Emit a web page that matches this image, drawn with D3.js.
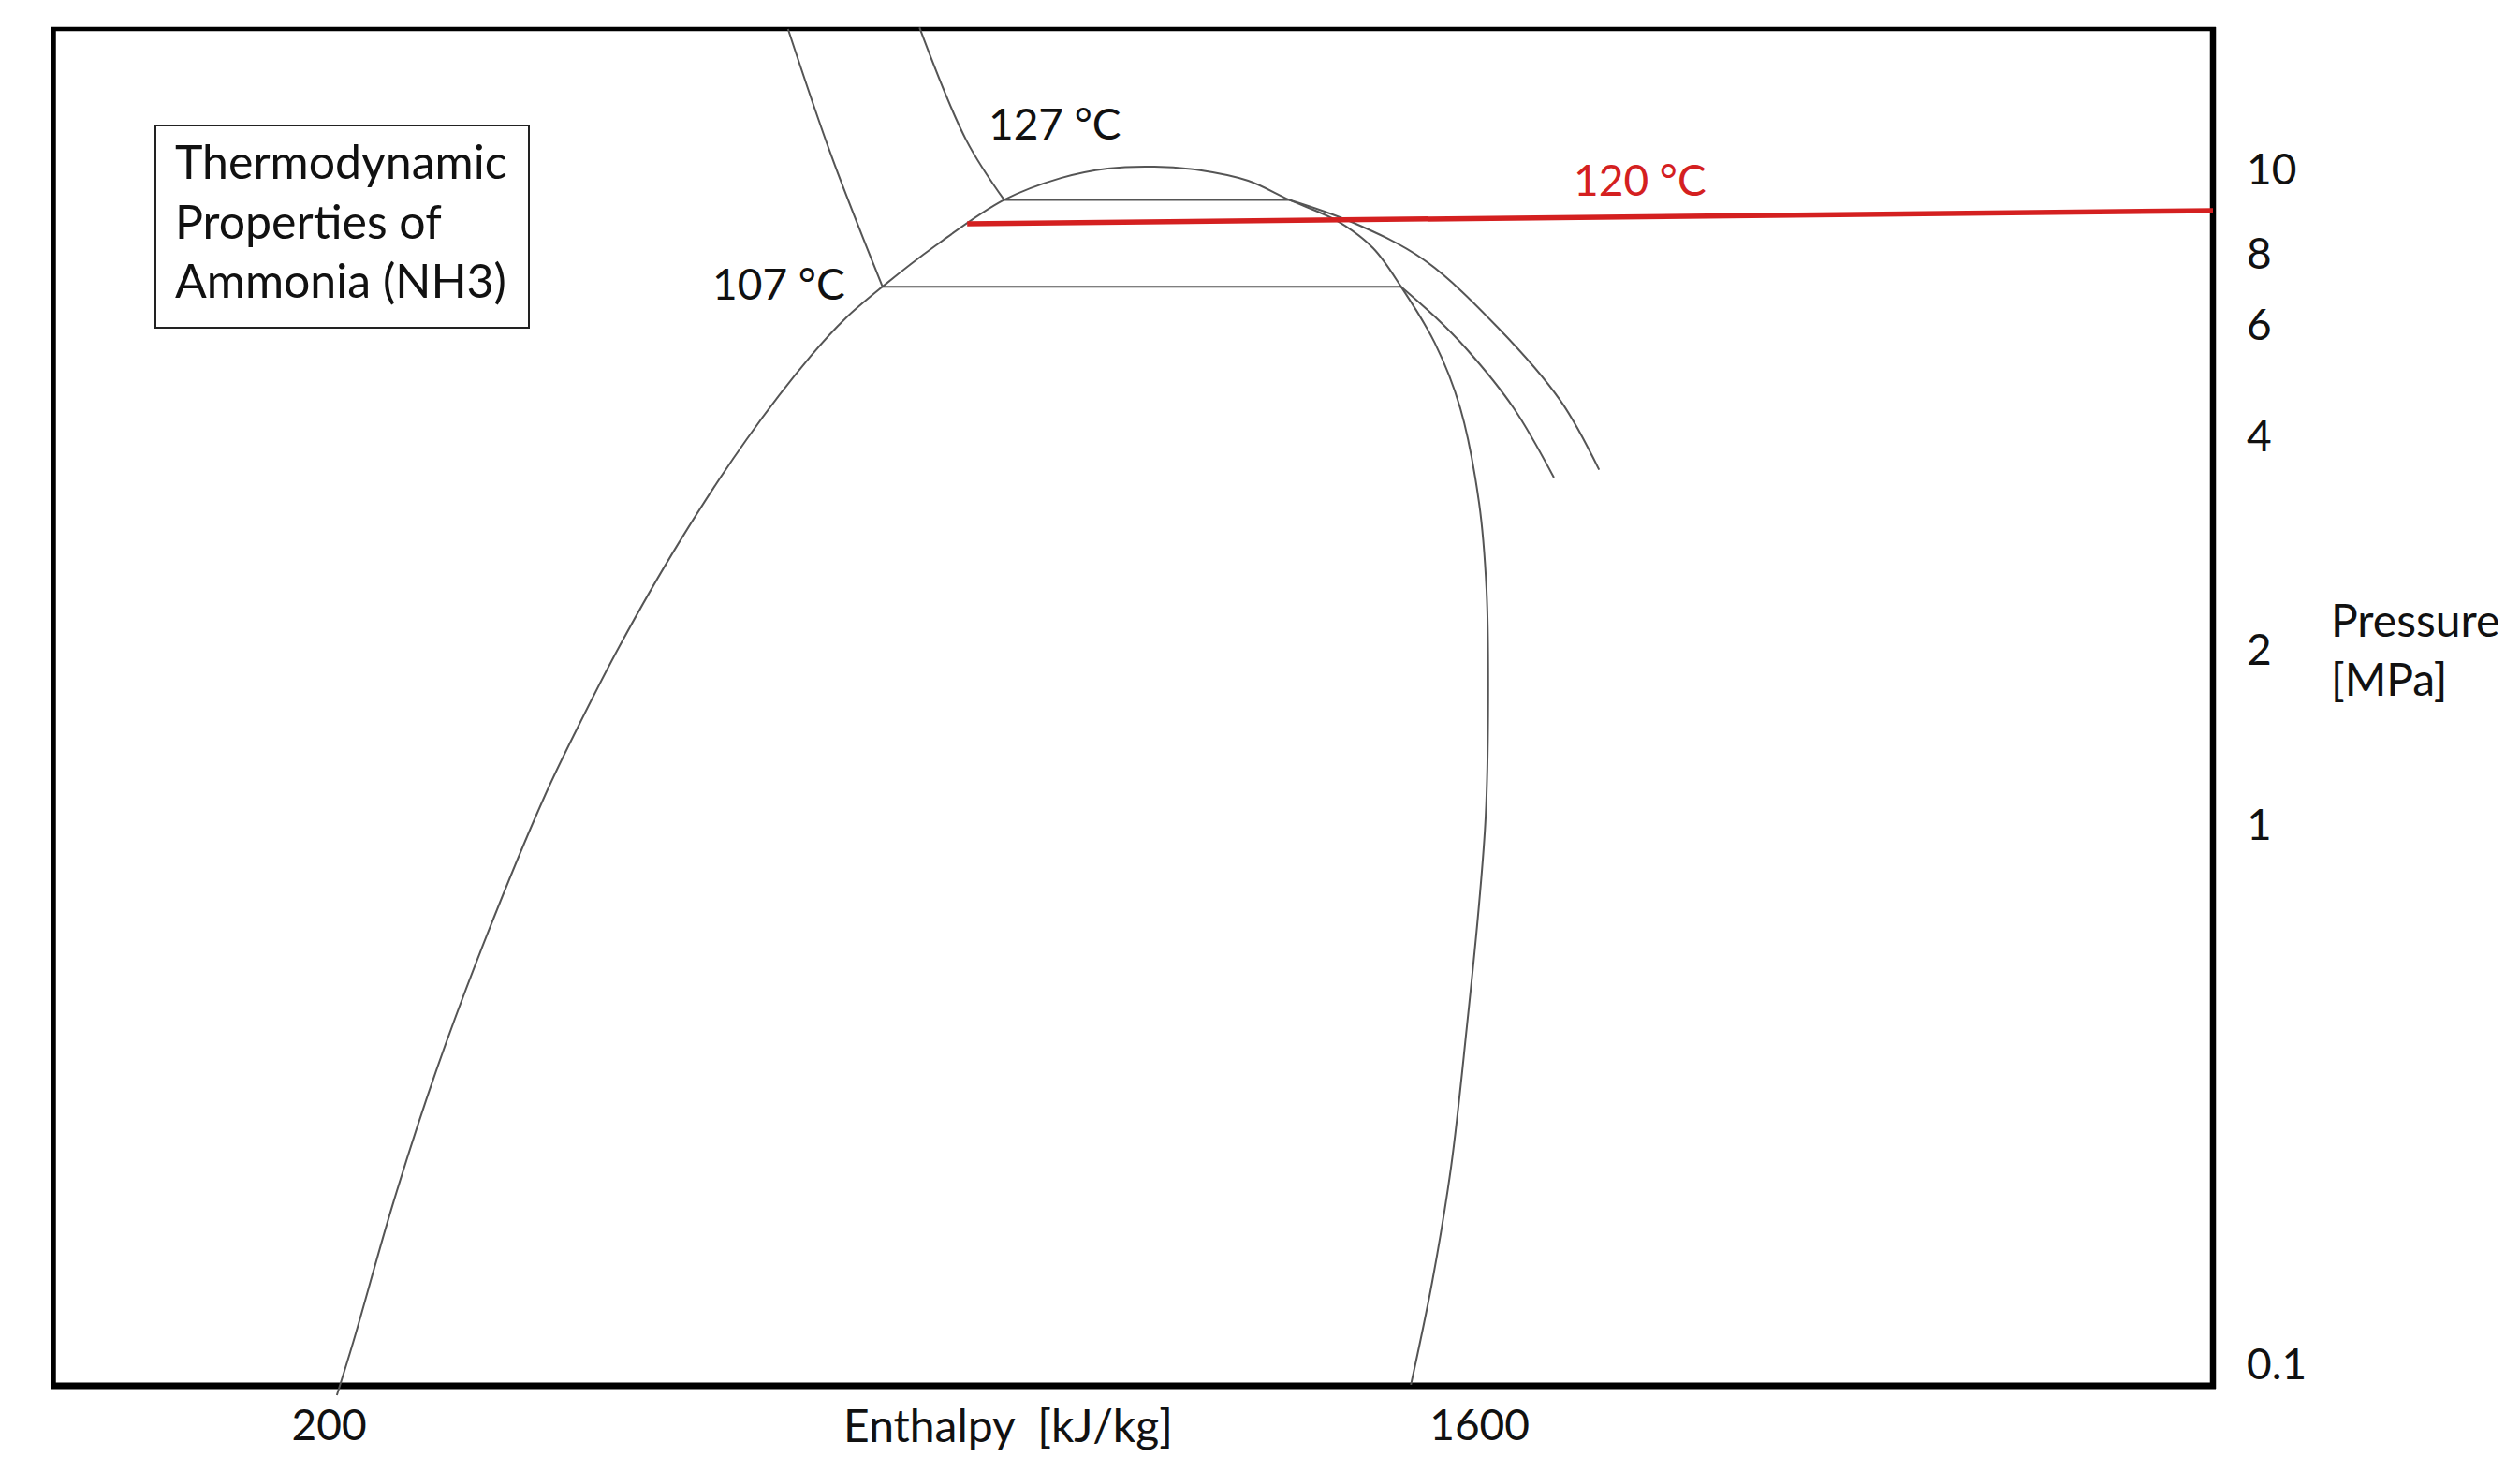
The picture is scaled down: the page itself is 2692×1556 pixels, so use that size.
<!DOCTYPE html>
<html>
<head>
<meta charset="utf-8">
<script src="https://cdn.jsdelivr.net/npm/d3@7"></script>
<style>
  body { margin: 0; background: #fff; }
  svg { display: block; font-family: Lato, "Open Sans", sans-serif; }
  .curve { fill: none; stroke: #555; stroke-width: 2; }
</style>
</head>
<body>
<svg width="2692" height="1556"></svg>
<script>
// tick labels of both axes
var hTicks = [200, 1600];
var pTicks = [0.1, 1, 2, 4, 6, 8, 10];
var pTickLabels = ["0.1", "1", "2", "4", "6", "8", "10"];

// saturation dome: liquid side up, over the top, vapor side down  [h kJ/kg, P MPa]
var saturation = [[210, 0.088], [230, 0.1105], [279, 0.201], [331, 0.352], [392, 0.624],
  [463, 1.126], [503, 1.476], [554, 2.031], [626, 2.838], [708, 3.964], [787, 5.381],
  [829, 6.185], [874, 7.03],
  [939, 8.20], [1022, 9.25], [1091, 9.80], [1148, 10.05], [1205, 10.10], [1262, 10.0],
  [1319, 9.73], [1369, 9.25], [1429, 8.73], [1471, 8.14], [1505, 7.03], [1546, 5.64],
  [1577, 4.45], [1600, 3.23], [1609, 2.44], [1611, 1.65], [1608, 1.04], [1600, 0.718],
  [1585, 0.423], [1566, 0.234], [1543, 0.143], [1517, 0.092]];

// 107 °C isotherm (liquid, two-phase, vapor parts)
var iso107Liquid = [[759, 14.54], [812, 10.38], [874, 7.03]];
var iso107Mix = [[874, 7.03], [1505, 7.03]];
var iso107Vapor = [[1505, 7.03], [1546, 6.23], [1585, 5.51], [1642, 4.45], [1691, 3.51]];

// 127 °C isotherm
var iso127Liquid = [[919, 14.6], [976, 10.83], [1022, 9.25]];
var iso127Mix = [[1022, 9.25], [1369, 9.25]];
var iso127Vapor = [[1369, 9.25], [1444, 8.73], [1532, 7.85], [1623, 5.96], [1699, 4.57], [1746, 3.60]];

// 120 °C line (red)
var iso120 = [[977, 8.68], [2493, 8.99]];

// isotherm labels [text, h, P]
var isoLabels = [["127 °C", 1003, 10.85], ["107 °C", 667, 6.67], ["120 °C", 1715, 9.35]];

var svg = d3.select("svg"),
    frame = {left: 57, right: 2364, top: 31, bottom: 1480};

// enthalpy: linear, pressure: hand drawn log axis (positions of the printed labels)
var x = d3.scaleLinear().domain([-135, 2493]).range([frame.left, frame.right]);
var y = d3.scaleLinear()
    .domain(pTicks.map(Math.log10))
    .range([1458, 882, 695, 467, 348, 272, 182]);

var line = d3.line()
    .x(function(d) { return x(d[0]); })
    .y(function(d) { return y(Math.log10(d[1])); })
    .curve(d3.curveCatmullRom.alpha(0.5));

// frame
var f = svg.append("g").attr("stroke", "#000");
f.append("line").attr("x1", frame.left - 3).attr("x2", frame.right + 3)
  .attr("y1", frame.top).attr("y2", frame.top).attr("stroke-width", 4.5);
f.append("line").attr("x1", frame.left - 3).attr("x2", frame.right + 3)
  .attr("y1", frame.bottom).attr("y2", frame.bottom).attr("stroke-width", 7);
f.append("line").attr("x1", frame.left).attr("x2", frame.left)
  .attr("y1", frame.top - 2).attr("y2", frame.bottom + 3).attr("stroke-width", 5.5);
f.append("line").attr("x1", frame.right).attr("x2", frame.right)
  .attr("y1", frame.top - 2).attr("y2", frame.bottom + 3).attr("stroke-width", 6.5);

// curves
var curves = [saturation, iso107Liquid, iso107Mix, iso107Vapor, iso127Liquid, iso127Mix, iso127Vapor];
svg.append("g").selectAll("path")
  .data(curves)
  .enter().append("path")
    .attr("class", "curve")
    .attr("d", line);

svg.append("path")
    .datum(iso120)
    .attr("fill", "none")
    .attr("stroke", "#d42020")
    .attr("stroke-width", 5.5)
    .attr("d", line);

// isotherm labels
svg.append("g").selectAll("text")
  .data(isoLabels)
  .enter().append("text")
    .attr("x", function(d) { return x(d[1]); })
    .attr("y", function(d) { return y(Math.log10(d[2])); })
    .attr("font-size", 46)
    .attr("fill", function(d) { return d[0] === "120 °C" ? "#d42020" : "#111"; })
    .text(function(d) { return d[0]; });

// axes, labels only
svg.append("g")
    .attr("transform", "translate(2400,0)")
    .call(d3.axisRight(y).tickValues(pTicks.map(Math.log10))
      .tickFormat(function(d, i) { return pTickLabels[i]; })
      .tickSize(0).tickPadding(0))
    .attr("font-size", 46).attr("font-family", null)
    .call(function(g) { g.select(".domain").remove(); });

svg.append("g")
    .attr("transform", "translate(0," + frame.bottom + ")")
    .call(d3.axisBottom(x).tickValues(hTicks).tickFormat(d3.format("d"))
      .tickSize(0).tickPadding(25))
    .attr("font-size", 46).attr("font-family", null)
    .call(function(g) { g.select(".domain").remove(); });

svg.selectAll(".tick text").attr("fill", "#111");

// axis titles
svg.append("text")
    .attr("x", 1077).attr("y", 1540)
    .attr("text-anchor", "middle")
    .attr("font-size", 48)
    .style("white-space", "pre")
    .attr("fill", "#111")
    .text("Enthalpy  [kJ/kg]");

var pt = svg.append("text").attr("font-size", 48).attr("fill", "#111");
pt.append("tspan").attr("x", 2490).attr("y", 680).text("Pressure");
pt.append("tspan").attr("x", 2490).attr("y", 743).text("[MPa]");

// title box
svg.append("rect")
    .attr("x", 166).attr("y", 134).attr("width", 399).attr("height", 216)
    .attr("fill", "none").attr("stroke", "#222").attr("stroke-width", 2);

var title = svg.append("text").attr("font-size", 50).attr("fill", "#111");
["Thermodynamic", "Properties of", "Ammonia (NH3)"].forEach(function(s, i) {
  title.append("tspan").attr("x", 187).attr("y", 191 + i * 63.5).text(s);
});
</script>
</body>
</html>
